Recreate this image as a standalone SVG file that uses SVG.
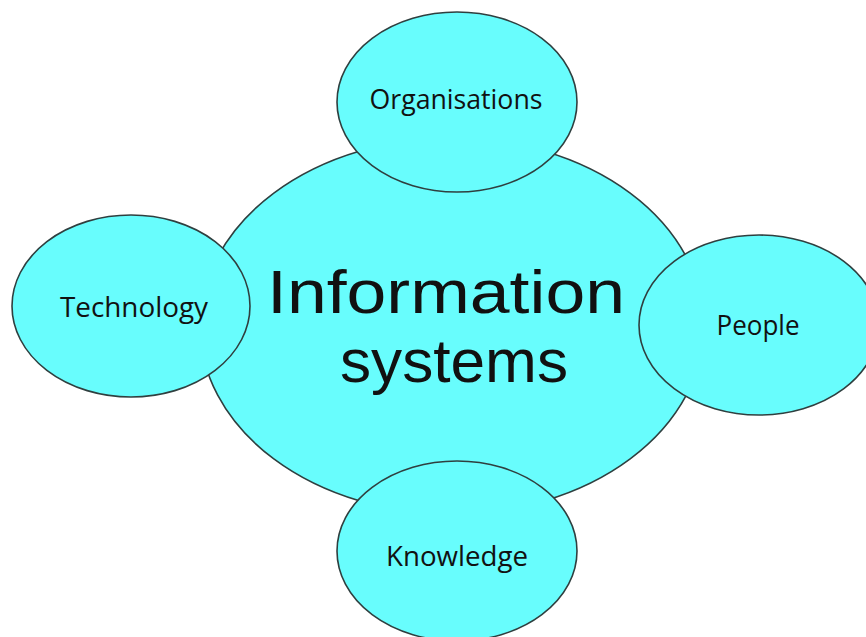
<svg xmlns="http://www.w3.org/2000/svg" width="866" height="637" viewBox="0 0 866 637">
<style>
.e{fill:#68fdfd;stroke:#2f3f3f;stroke-width:1.6}
.t{font-family:"Open Sans","Noto Sans","DejaVu Sans",sans-serif;fill:#111;text-anchor:middle}
.s{font-size:27px}
.b{font-family:"Liberation Sans",Arial,sans-serif;font-size:61px}
</style>
<rect width="866" height="637" fill="#fff"/>
<g id="connectors"></g>
<g id="center">
<ellipse class="e" cx="452" cy="326" rx="252" ry="188"/>
<text class="t b" x="446" y="313" textLength="358" lengthAdjust="spacingAndGlyphs">Information</text>
<text class="t b" x="454" y="382" textLength="228" lengthAdjust="spacingAndGlyphs">systems</text>
</g>
<g id="organisations">
<ellipse class="e" cx="457" cy="102" rx="120" ry="90"/>
<text class="t s" x="456" y="109" textLength="173" lengthAdjust="spacingAndGlyphs">Organisations</text>
</g>
<g id="technology">
<ellipse class="e" cx="131" cy="306" rx="119" ry="91"/>
<text class="t s" x="134" y="317" textLength="148" lengthAdjust="spacingAndGlyphs">Technology</text>
</g>
<g id="people">
<ellipse class="e" cx="759" cy="325" rx="120" ry="90"/>
<text class="t s" x="758" y="335" textLength="83" lengthAdjust="spacingAndGlyphs">People</text>
</g>
<g id="knowledge">
<ellipse class="e" cx="457" cy="551" rx="120" ry="90"/>
<text class="t s" x="457" y="566" textLength="142" lengthAdjust="spacingAndGlyphs">Knowledge</text>
</g>
</svg>
